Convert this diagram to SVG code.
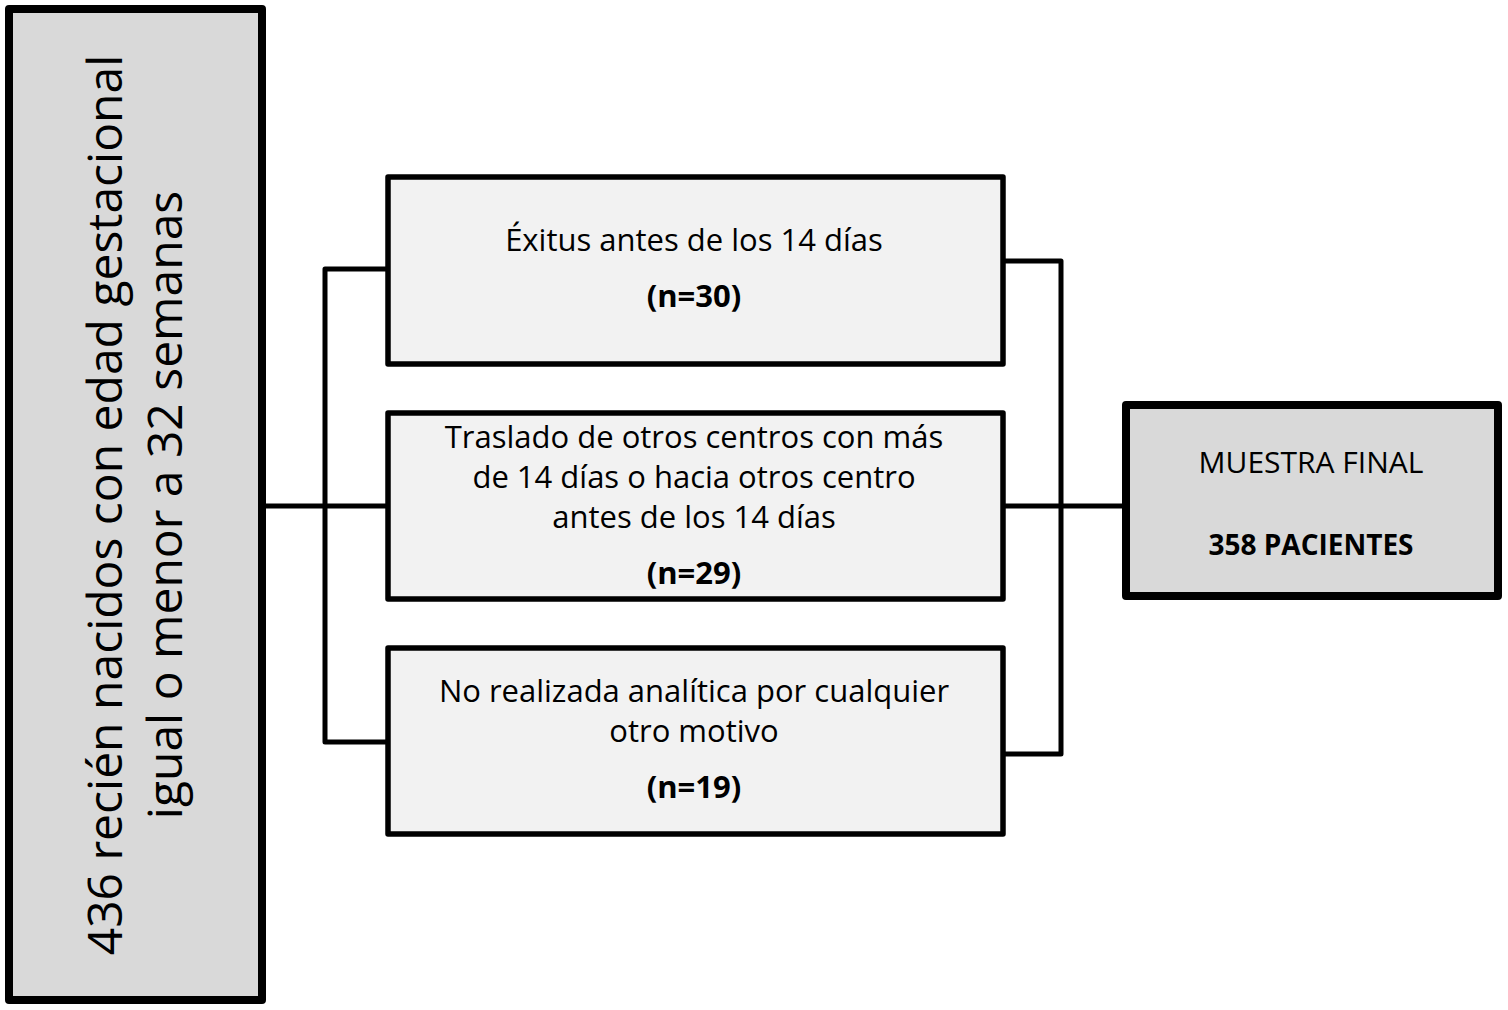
<svg xmlns="http://www.w3.org/2000/svg" width="1508" height="1010" viewBox="0 0 1508 1010">
<style>
.t{font-family:"Open Sans","Noto Sans",sans-serif;fill:#000;text-anchor:middle}
.m{font-size:31px}
.b{font-weight:bold}
.big{font-size:48px}
.ln{fill:none;stroke:#000;stroke-width:5;stroke-linejoin:round;stroke-linecap:square}
.box{stroke:#000;stroke-width:5.5;stroke-linejoin:round}
.heavy{stroke:#000;stroke-width:8;stroke-linejoin:round;fill:#d9d9d9}
</style>
<rect width="1508" height="1010" fill="#fff"/>
<g id="connectors">
<path class="ln" d="M262 506 H388"/>
<path class="ln" d="M388 269 H325 V742 H388"/>
<path class="ln" d="M1003 261 H1061 V754 H1003"/>
<path class="ln" d="M1003 506 H1126"/>
</g>
<g id="node-total">
<rect class="heavy" x="9" y="9" width="253" height="991"/>
<text class="t big" transform="translate(122,505) rotate(-90)">436 recién nacidos con edad gestacional</text>
<text class="t big" transform="translate(182,505) rotate(-90)">igual o menor a 32 semanas</text>
</g>
<g id="node-exitus">
<rect class="box" x="388" y="177" width="615" height="187" fill="#f2f2f2"/>
<text class="t m" x="694" y="251">Éxitus antes de los 14 días</text>
<text class="t m b" x="694" y="307">(n=30)</text>
</g>
<g id="node-traslado">
<rect class="box" x="388" y="413" width="615" height="186" fill="#f2f2f2"/>
<text class="t m" x="694" y="448">Traslado de otros centros con más</text>
<text class="t m" x="694" y="488">de 14 días o hacia otros centro</text>
<text class="t m" x="694" y="528">antes de los 14 días</text>
<text class="t m b" x="694" y="584">(n=29)</text>
</g>
<g id="node-analitica">
<rect class="box" x="388" y="648" width="615" height="186" fill="#f2f2f2"/>
<text class="t m" x="694" y="702">No realizada analítica por cualquier</text>
<text class="t m" x="694" y="742">otro motivo</text>
<text class="t m b" x="694" y="798">(n=19)</text>
</g>
<g id="node-final">
<rect class="heavy" x="1126" y="405" width="372" height="191"/>
<text class="t" style="font-size:30px" x="1311" y="473">MUESTRA FINAL</text>
<text class="t b" style="font-size:28px" x="1311" y="555">358 PACIENTES</text>
</g>
</svg>
